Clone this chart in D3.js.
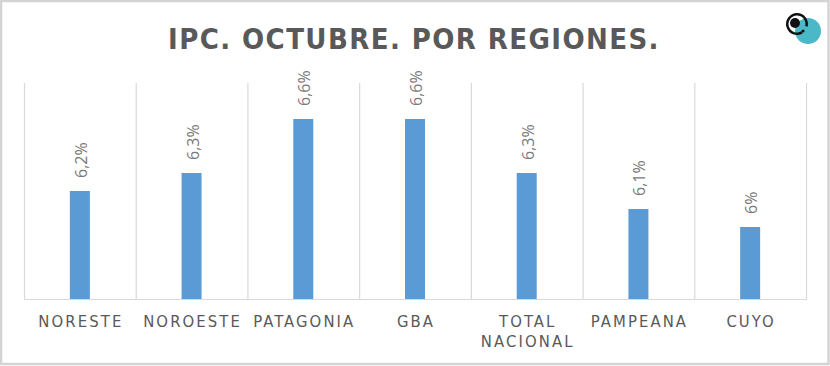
<!DOCTYPE html>
<html>
<head>
<meta charset="utf-8">
<script src="https://cdn.jsdelivr.net/npm/d3@7"></script>
<style>
  html, body { margin: 0; padding: 0; background: #fff; }
  svg { display: block; }
  .cat { font-family: "DejaVu Sans Condensed", Roboto, sans-serif; }
</style>
</head>
<body>
<svg id="chart" width="830" height="366"></svg>
<script>
const regions = ['NORESTE', 'NOROESTE', 'PATAGONIA', 'GBA', 'TOTAL NACIONAL', 'PAMPEANA', 'CUYO'];
const ipc = [6.2, 6.3, 6.6, 6.6, 6.3, 6.1, 6.0];
const valueLabels = ['6,2%', '6,3%', '6,6%', '6,6%', '6,3%', '6,1%', '6%'];
const yDomain = [5.6, 6.8];
const title = 'IPC. OCTUBRE. POR REGIONES.';

const svg = d3.select('#chart');
const W = 830, H = 366;
const plot = { left: 24, right: 806, top: 83, bottom: 299 };

// frame
svg.append('rect').attr('x', 1).attr('y', 1).attr('width', W - 2.5).attr('height', H - 3)
    .attr('fill', '#fff').attr('stroke', '#d4d4d4').attr('stroke-width', 2.5);

svg.append('text').attr('x', 414).attr('y', 49).attr('text-anchor', 'middle')
    .attr('font-family', '"DejaVu Sans Condensed", sans-serif')
    .attr('font-weight', 'bold').attr('font-size', 29).attr('letter-spacing', 1.4)
    .attr('fill', '#595959').text(title);

const x = d3.scaleBand().domain(regions).range([plot.left, plot.right]);
const y = d3.scaleLinear().domain(yDomain).range([plot.bottom, plot.top]);

// category separators
const edges = regions.map(r => x(r)).concat([plot.right]);
svg.append('g').selectAll('line').data(edges).join('line')
    .attr('x1', d => d + 0.5).attr('x2', d => d + 0.5)
    .attr('y1', plot.top).attr('y2', plot.bottom)
    .attr('stroke', '#d9d9d9').attr('stroke-width', 1.2);

const bw = 20;
svg.append('g').selectAll('rect').data(regions).join('rect')
    .attr('x', d => x(d) + x.bandwidth() / 2 - bw / 2)
    .attr('width', bw)
    .attr('y', (d, i) => y(ipc[i]))
    .attr('height', (d, i) => plot.bottom - y(ipc[i]))
    .attr('fill', '#5b9bd5');

// baseline
svg.append('line').attr('x1', plot.left).attr('x2', plot.right + 1)
    .attr('y1', plot.bottom + 0.5).attr('y2', plot.bottom + 0.5)
    .attr('stroke', '#d9d9d9').attr('stroke-width', 1.2);

// value labels, rotated
svg.append('g').selectAll('text').data(regions).join('text')
    .attr('transform', (d, i) => `translate(${x(d) + x.bandwidth() / 2 + 7},${y(ipc[i]) - 13}) rotate(-90)`)
    .attr('font-family', '"Open Sans", sans-serif').attr('font-size', 16)
    .attr('fill', '#7a7a7a')
    .text((d, i) => valueLabels[i]);

// category labels
const cats = svg.append('g').attr('class', 'cat');
regions.forEach(r => {
    const words = r === 'TOTAL NACIONAL' ? ['TOTAL', 'NACIONAL'] : [r];
    const t = cats.append('text').attr('text-anchor', 'middle')
        .attr('font-size', 16.5).attr('letter-spacing', 2.1).attr('fill', '#595959');
    words.forEach((w, i) => {
        t.append('tspan').attr('x', x(r) + x.bandwidth() / 2 + 1).attr('y', 327 + i * 20).text(w);
    });
});

// logo
const logo = svg.append('g');
logo.append('circle').attr('cx', 808).attr('cy', 31).attr('r', 13).attr('fill', '#4bb8c8');
const arc = d3.arc().innerRadius(8.5).outerRadius(11).startAngle(2.6).endAngle(2.6 + Math.PI * 1.75);
logo.append('path').attr('d', arc()).attr('transform', 'translate(797,24)').attr('fill', '#111');
logo.append('circle').attr('cx', 795).attr('cy', 23).attr('r', 5).attr('fill', '#111');
logo.append('circle').attr('cx', 803).attr('cy', 31).attr('r', 1.6).attr('fill', '#111');
</script>
</body>
</html>
